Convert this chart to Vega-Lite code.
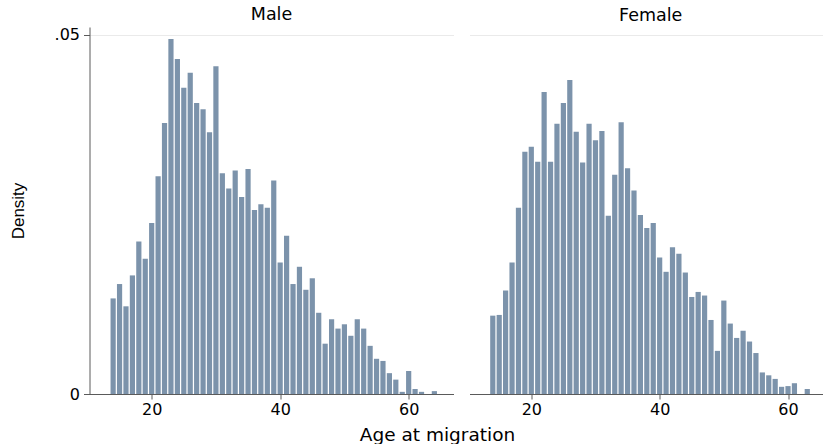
{
  "$schema": "https://vega.github.io/schema/vega-lite/v6.json",
  "padding": {"left": 8.5, "top": 6, "right": 0, "bottom": 0},
  "background": "white",
  "bounds": "flush",
  "spacing": 16,
  "config": {
    "view": {"stroke": null},
    "font": "DejaVu Sans",
    "axis": {"labelColor": "#000", "titleColor": "#000", "domainColor": "#5a5a5a", "tickColor": "#5a5a5a", "titleFontWeight": "normal"},
    "title": {"fontWeight": "normal", "color": "#000"}
  },
  "datasets": {
    "male": [
      {"age": 14, "density": 0.0133}, {"age": 15, "density": 0.0153}, {"age": 16, "density": 0.0122},
      {"age": 17, "density": 0.0165}, {"age": 18, "density": 0.0212}, {"age": 19, "density": 0.0188},
      {"age": 20, "density": 0.0238}, {"age": 21, "density": 0.0303}, {"age": 22, "density": 0.0377},
      {"age": 23, "density": 0.0494}, {"age": 24, "density": 0.0466}, {"age": 25, "density": 0.0426},
      {"age": 26, "density": 0.0447}, {"age": 27, "density": 0.0405}, {"age": 28, "density": 0.0396},
      {"age": 29, "density": 0.0364}, {"age": 30, "density": 0.0456}, {"age": 31, "density": 0.0307},
      {"age": 32, "density": 0.0286}, {"age": 33, "density": 0.0311}, {"age": 34, "density": 0.0274},
      {"age": 35, "density": 0.0313}, {"age": 36, "density": 0.0256}, {"age": 37, "density": 0.0264},
      {"age": 38, "density": 0.0259}, {"age": 39, "density": 0.0297}, {"age": 40, "density": 0.0183},
      {"age": 41, "density": 0.0220}, {"age": 42, "density": 0.0153}, {"age": 43, "density": 0.0177},
      {"age": 44, "density": 0.0145}, {"age": 45, "density": 0.0161}, {"age": 46, "density": 0.0113},
      {"age": 47, "density": 0.0070}, {"age": 48, "density": 0.0104}, {"age": 49, "density": 0.0091},
      {"age": 50, "density": 0.0097}, {"age": 51, "density": 0.0081}, {"age": 52, "density": 0.0104},
      {"age": 53, "density": 0.0091}, {"age": 54, "density": 0.0067}, {"age": 55, "density": 0.0049},
      {"age": 56, "density": 0.0046}, {"age": 57, "density": 0.0029}, {"age": 58, "density": 0.0020},
      {"age": 59, "density": 0.0003}, {"age": 60, "density": 0.0032}, {"age": 61, "density": 0.0007},
      {"age": 62, "density": 0.0003}, {"age": 64, "density": 0.0004}
    ],
    "female": [
      {"age": 14, "density": 0.0109}, {"age": 15, "density": 0.0110}, {"age": 16, "density": 0.0144},
      {"age": 17, "density": 0.0183}, {"age": 18, "density": 0.0259}, {"age": 19, "density": 0.0337},
      {"age": 20, "density": 0.0344}, {"age": 21, "density": 0.0323}, {"age": 22, "density": 0.0420},
      {"age": 23, "density": 0.0323}, {"age": 24, "density": 0.0376}, {"age": 25, "density": 0.0405},
      {"age": 26, "density": 0.0437}, {"age": 27, "density": 0.0365}, {"age": 28, "density": 0.0322},
      {"age": 29, "density": 0.0376}, {"age": 30, "density": 0.0353}, {"age": 31, "density": 0.0366},
      {"age": 32, "density": 0.0248}, {"age": 33, "density": 0.0305}, {"age": 34, "density": 0.0378},
      {"age": 35, "density": 0.0314}, {"age": 36, "density": 0.0283}, {"age": 37, "density": 0.0249},
      {"age": 38, "density": 0.0231}, {"age": 39, "density": 0.0238}, {"age": 40, "density": 0.0190},
      {"age": 41, "density": 0.0170}, {"age": 42, "density": 0.0204}, {"age": 43, "density": 0.0195},
      {"age": 44, "density": 0.0169}, {"age": 45, "density": 0.0135}, {"age": 46, "density": 0.0142},
      {"age": 47, "density": 0.0137}, {"age": 48, "density": 0.0103}, {"age": 49, "density": 0.0060},
      {"age": 50, "density": 0.0130}, {"age": 51, "density": 0.0098}, {"age": 52, "density": 0.0078},
      {"age": 53, "density": 0.0088}, {"age": 54, "density": 0.0073}, {"age": 55, "density": 0.0057},
      {"age": 56, "density": 0.0030}, {"age": 57, "density": 0.0026}, {"age": 58, "density": 0.0021},
      {"age": 59, "density": 0.0010}, {"age": 60, "density": 0.0011}, {"age": 61, "density": 0.0015},
      {"age": 63, "density": 0.0007}
    ]
  },
  "hconcat": [
    {
      "title": {"text": "Male", "fontSize": 17.5, "offset": 3},
      "width": 364,
      "height": 367,
      "data": {"name": "male"},
      "mark": {"type": "bar", "size": 5.2, "color": "#7C93AB"},
      "encoding": {
        "x": {
          "field": "age", "type": "quantitative",
          "scale": {"domain": [11.1, 66.2], "nice": false, "zero": false},
          "axis": {"values": [20, 40, 60], "grid": false, "tickSize": 5, "labelFontSize": 16, "labelPadding": 2,
                   "title": "Age at migration", "titleFontSize": 18.5, "titleX": 347.5, "titleAnchor": null, "titleAlign": "center", "titlePadding": 8}
        },
        "y": {
          "field": "density", "type": "quantitative",
          "scale": {"domain": [0, 0.05106], "nice": false},
          "axis": {"values": [0, 0.05], "grid": true, "gridColor": "#EAEAEA", "tickSize": 6, "labelPadding": 4,
                   "labelFontSize": 16, "labelExpr": "datum.value == 0 ? '0' : '.05'",
                   "title": "Density", "titleFontSize": 17, "titleFont": "Liberation Sans", "titlePadding": 27}
        }
      }
    },
    {
      "title": {"text": "Female", "fontSize": 17.5, "offset": 3, "dx": 4.2},
      "width": 354,
      "height": 367,
      "data": {"name": "female"},
      "mark": {"type": "bar", "size": 5.2, "color": "#7C93AB"},
      "encoding": {
        "x": {
          "field": "age", "type": "quantitative",
          "scale": {"domain": [11.15, 64.75], "nice": false, "zero": false},
          "axis": {"values": [20, 40, 60], "grid": false, "tickSize": 5, "labelFontSize": 16, "labelPadding": 2, "title": null}
        },
        "y": {
          "field": "density", "type": "quantitative",
          "scale": {"domain": [0, 0.05106], "nice": false},
          "axis": {"values": [0.05], "grid": true, "gridColor": "#EAEAEA", "ticks": false, "labels": false, "domain": false, "title": null}
        }
      }
    }
  ]
}
